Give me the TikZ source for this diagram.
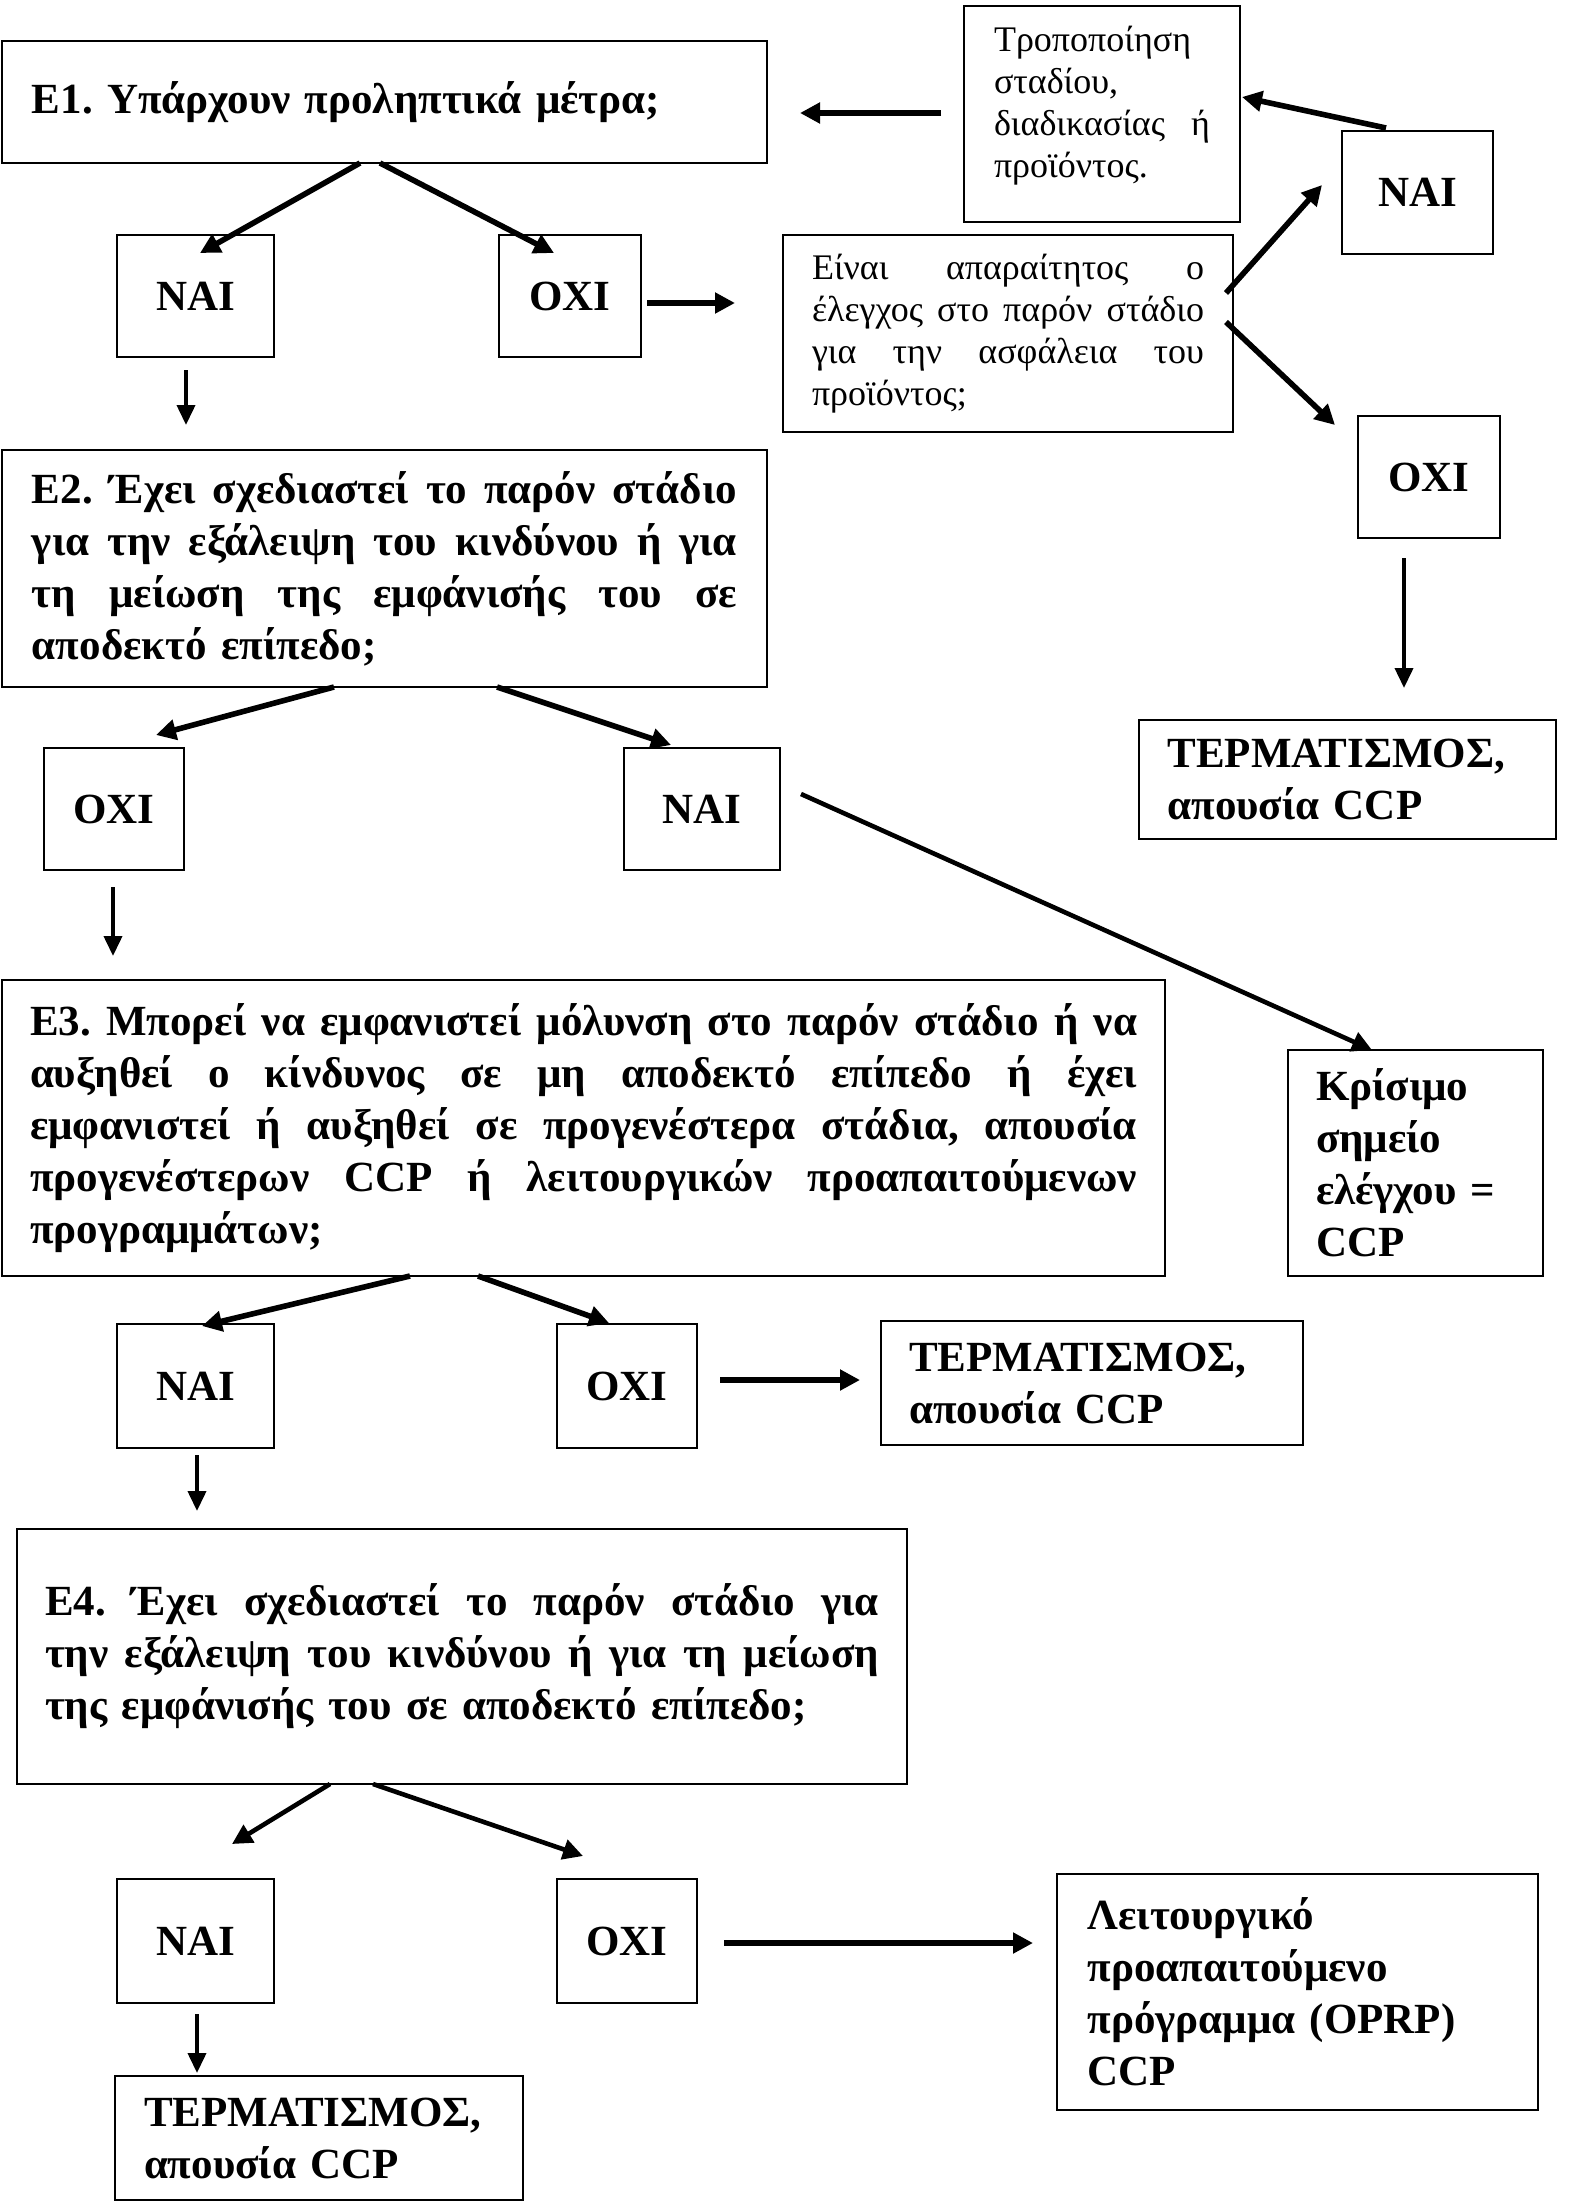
\documentclass[tikz,border=0pt]{standalone}
\usepackage{fontspec}
\setmainfont{Liberation Serif}
\usetikzlibrary{arrows.meta,calc}
\frenchspacing
\newcommand{\jl}[2]{{\spaceskip=0pt\xspaceskip=0pt\makebox[#1][s]{#2}}}
\tikzset{
  box/.style={draw, line width=1.3pt, inner sep=0pt, outer sep=0pt, anchor=center},
  bt/.style={font=\bfseries\fontsize{21.5pt}{26pt}\selectfont},
  rt/.style={font=\fontsize{18pt}{21pt}\selectfont},
  yn/.style={box, bt, align=center},
  arr/.style={line width=2.8pt, -{Triangle[length=10pt,width=10pt]}},
  varr/.style={line width=1.9pt, -{Triangle[length=10pt,width=9pt]}},
  darr/.style={line width=2.3pt, -{Triangle[length=10pt,width=10pt]}},
}
\begin{document}
\begin{tikzpicture}[x=0.5pt,y=-0.5pt]
\useasboundingbox (0,0) rectangle (1587,2205);
% boxes
\node[box,bt,minimum width=382.5pt,minimum height=61pt,text width=352.5pt,align=left] (E1) at (384.5,102) {Ε1. Υπάρχουν προληπτικά μέτρα;};
\node[box,rt,minimum width=138pt,minimum height=108pt,text width=108pt,text depth=75pt,align=left] (T) at (1102,114) {Τροποποίηση\\σταδίου,\\\jl{108pt}{διαδικασίας ή}\\προϊόντος.};
\node[yn,minimum width=78.5pt,minimum height=61pt] (N1) at (195.5,296) {NAI};
\node[yn,minimum width=71pt,minimum height=61pt] (O1) at (570,296) {OXI};
\node[box,rt,minimum width=225pt,minimum height=98.5pt,text width=196pt,align=left] (Q) at (1008,333.5) {\jl{196pt}{Είναι απαραίτητος ο}\\\jl{196pt}{έλεγχος στο παρόν στάδιο}\\\jl{196pt}{για την ασφάλεια του}\\προϊόντος;};
\node[yn,minimum width=75.5pt,minimum height=61.5pt] (N2) at (1417.5,192.5) {NAI};
\node[yn,minimum width=71pt,minimum height=61pt] (O2) at (1429,477) {OXI};
\node[box,bt,minimum width=382.5pt,minimum height=118.5pt,text width=352.5pt,align=left] (E2) at (384.5,568.5) {\jl{352.5pt}{Ε2. Έχει σχεδιαστεί το παρόν στάδιο}\\\jl{352.5pt}{για την εξάλειψη του κινδύνου ή για}\\\jl{352.5pt}{τη μείωση της εμφάνισής του σε}\\αποδεκτό επίπεδο;};
\node[box,bt,minimum width=208.5pt,minimum height=59.5pt,text width=180pt,align=left] (TE1) at (1347.5,779.5) {ΤΕΡΜΑΤΙΣΜΟΣ,\\απουσία CCP};
\node[yn,minimum width=70pt,minimum height=61pt] (O3) at (114,809) {OXI};
\node[yn,minimum width=78pt,minimum height=61pt] (N3) at (702,809) {NAI};
\node[box,bt,minimum width=127.5pt,minimum height=113pt,text width=99.5pt,align=left] (CCP) at (1415.5,1163) {Κρίσιμο\\σημείο\\ελέγχου =\\CCP};
\node[box,bt,minimum width=581.5pt,minimum height=148pt,text width=553.5pt,align=left] (E3) at (583.5,1128) {\jl{553.5pt}{Ε3. Μπορεί να εμφανιστεί μόλυνση στο παρόν στάδιο ή να}\\\jl{553.5pt}{αυξηθεί ο κίνδυνος σε μη αποδεκτό επίπεδο ή έχει}\\\jl{553.5pt}{εμφανιστεί ή αυξηθεί σε προγενέστερα στάδια, απουσία}\\\jl{553.5pt}{προγενέστερων CCP ή λειτουργικών προαπαιτούμενων}\\προγραμμάτων;};
\node[yn,minimum width=78.5pt,minimum height=62pt] (N4) at (195.5,1386) {NAI};
\node[yn,minimum width=70pt,minimum height=62pt] (O4) at (627,1386) {OXI};
\node[box,bt,minimum width=211pt,minimum height=62pt,text width=183pt,align=left] (TE2) at (1092,1383) {ΤΕΡΜΑΤΙΣΜΟΣ,\\απουσία CCP};
\node[box,bt,minimum width=445pt,minimum height=127.5pt,text width=417pt,align=left] (E4) at (462,1656.5) {\jl{417pt}{Ε4. Έχει σχεδιαστεί το παρόν στάδιο για}\\\jl{417pt}{την εξάλειψη του κινδύνου ή για τη μείωση}\\της εμφάνισής του σε αποδεκτό επίπεδο;};
\node[yn,minimum width=78.5pt,minimum height=62pt] (N5) at (195.5,1941) {NAI};
\node[yn,minimum width=70pt,minimum height=62pt] (O5) at (627,1941) {OXI};
\node[box,bt,minimum width=240.5pt,minimum height=118pt,text width=210pt,align=left] (OP) at (1297.5,1992) {Λειτουργικό\\προαπαιτούμενο\\πρόγραμμα (OPRP)\\CCP};
\node[box,bt,minimum width=204pt,minimum height=62pt,text width=175pt,align=left] (TE3) at (319,2138) {ΤΕΡΜΑΤΙΣΜΟΣ,\\απουσία CCP};
% connectors
\draw[arr] ($(E1.south west)+(358,0)$) -- ($(N1.north west)+(83,18)$);
\draw[arr] ($(E1.south west)+(378,0)$) -- ($(O1.north west)+(55,18)$);
\draw[varr] ($(N1.south west)+(69,13)$) -- ($(E2.north west)+(184,-25)$);
\draw[arr] ($(O1.east)+(6,7)$) -- ($(Q.west)+(-48,-30.5)$);
\draw[arr] ($(T.west)+(-23,-1)$) -- ($(E1.east)+(33,11)$);
\draw[arr] ($(N2.north west)+(44,-3)$) -- ($(T.east)+(2,-17)$);
\draw[arr] ($(Q.east)+(-7,-40.5)$) -- ($(N2.west)+(-20,-7.5)$);
\draw[arr] ($(Q.east)+(-7,-11.5)$) -- ($(O2.north west)+(-23,9)$);
\draw[varr] ($(O2.south west)+(46,20)$) -- ($(TE1.north west)+(265,-32)$);
\draw[arr] ($(E2.south west)+(332,0)$) -- ($(O3.north west)+(112,-13)$);
\draw[arr] ($(E2.south west)+(495,0)$) -- ($(N3.north west)+(47,-3)$);
\draw[varr] ($(O3.south west)+(69,17)$) -- ($(E3.north west)+(111,-24)$);
\draw[darr] ($(N3.east)+(21,-15)$) -- ($(CCP.north west)+(84,0)$);
\draw[arr] ($(E3.south west)+(408,0)$) -- ($(N4.north west)+(85,2)$);
\draw[arr] ($(E3.south west)+(476,0)$) -- ($(O4.north west)+(52,-1)$);
\draw[arr] ($(O4.east)+(23,-6)$) -- ($(TE2.west)+(-21,-3)$);
\draw[varr] ($(N4.south west)+(80,7)$) -- ($(E4.north west)+(180,-18)$);
\draw[darr] ($(E4.south west)+(313,0)$) -- ($(N5.north west)+(115,-35)$);
\draw[darr] ($(E4.south west)+(356,0)$) -- ($(O5.north west)+(26,-23)$);
\draw[arr] ($(O5.east)+(27,2)$) -- ($(OP.west)+(-24,-49)$);
\draw[varr] ($(N5.south west)+(80,11)$) -- ($(TE3.north west)+(82,-3)$);
\end{tikzpicture}
\end{document}
